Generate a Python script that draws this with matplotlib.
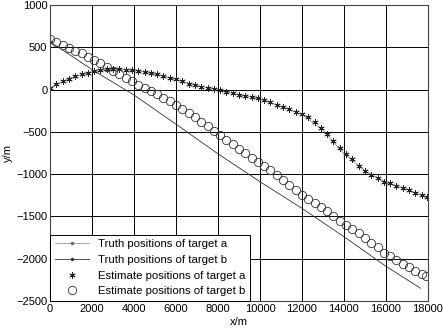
import numpy as np
import matplotlib
matplotlib.use('Agg')
import matplotlib.pyplot as plt

plt.rcParams['font.family'] = ['Liberation Sans', 'DejaVu Sans']

# 真实轨迹 a（与估计点 a 基本重合）
truth_a_x = [0, 1000, 2000, 3000, 4000, 5000, 6000, 7000, 8000, 9000,
             10000, 11000, 12000, 13000, 14000, 15000, 16000, 17000, 17950]
truth_a_y = [20, 140, 210, 245, 225, 185, 120, 45, 0, -65,
             -110, -200, -295, -480, -760, -960, -1100, -1180, -1275]

# 真实轨迹 b
truth_b_x = [0, 2000, 4000, 6000, 8000, 10000, 12000, 14000, 16000, 17650]
truth_b_y = [565, 236, -65, -410, -760, -1090, -1405, -1740, -2090, -2350]

# 估计点 a
est_a_x = [0, 300, 600, 900, 1200, 1500, 1800, 2100, 2400, 2700,
           3000, 3300, 3600, 3900, 4200, 4500, 4800, 5100, 5400, 5700,
           6000, 6300, 6600, 6900, 7200, 7500, 7800, 8100, 8400, 8700,
           9000, 9300, 9600, 9900, 10200, 10500, 10800, 11100, 11400, 11700,
           12000, 12300, 12600, 12900, 13200, 13500, 13800, 14100, 14400, 14700,
           15000, 15300, 15600, 15900, 16200, 16500, 16800, 17100, 17400, 17700,
           17950]
est_a_y = [20, 60, 95, 130, 160, 185, 200, 220, 235, 245,
           245, 240, 235, 225, 215, 205, 195, 180, 160, 135,
           130, 100, 70, 50, 25, 15, 5, -5, -25, -45,
           -60, -75, -90, -100, -125, -150, -180, -205, -230, -260,
           -295, -330, -380, -450, -530, -610, -690, -760, -820, -900,
           -960, -1010, -1050, -1090, -1110, -1140, -1165, -1185, -1220, -1250,
           -1275]

# 估计点 b
est_b_x = [0, 300, 600, 900, 1200, 1500, 1800, 2100, 2400, 2700,
           3000, 3300, 3600, 3900, 4200, 4500, 4800, 5100, 5400, 5700,
           6000, 6300, 6600, 6900, 7200, 7500, 7800, 8100, 8400, 8700,
           9000, 9300, 9600, 9900, 10200, 10500, 10800, 11100, 11400, 11700,
           12000, 12300, 12600, 12900, 13200, 13500, 13800, 14100, 14400, 14700,
           15000, 15300, 15600, 15900, 16200, 16500, 16800, 17100, 17400, 17700,
           17900]
est_b_y = [600, 560, 522, 488, 458, 428, 390, 350, 308, 265,
           220, 178, 140, 100, 58, 22, -15, -55, -95, -135,
           -185, -235, -280, -330, -380, -430, -485, -540, -595, -645,
           -700, -750, -805, -855, -905, -955, -1010, -1065, -1130, -1190,
           -1245, -1290, -1340, -1390, -1440, -1500, -1560, -1600, -1650, -1700,
           -1760, -1810, -1865, -1930, -1970, -2020, -2065, -2100, -2140, -2185,
           -2210]

x_ticks = [0, 2000, 4000, 6000, 8000, 10000, 12000, 14000, 16000, 18000]
y_ticks = [-2500, -2000, -1500, -1000, -500, 0, 500, 1000]

fig = plt.figure(figsize=(4.43, 3.30), dpi=100)
ax = fig.add_axes([0.113, 0.088, 0.853, 0.897])

# 曲线上不画点，只在图例中显示点
ax.plot(truth_a_x, truth_a_y, color='#666666', lw=0.4, marker='.', ms=3,
        markevery=[0], label='Truth positions of target a')
ax.plot(truth_b_x, truth_b_y, color='#333333', lw=0.6, marker='.', ms=3,
        markevery=[0], label='Truth positions of target b')
ax.plot(est_a_x, est_a_y, ls='none', marker=(6, 2, 0), ms=4.5, mew=0.6,
        color='#222222', label='Estimate positions of target a')
ax.plot(est_b_x, est_b_y, ls='none', marker='o', ms=6, mew=0.6,
        mfc='none', mec='#333333', label='Estimate positions of target b')

ax.set_xlim(0, 18000)
ax.set_ylim(-2500, 1000)
ax.set_xticks(x_ticks)
ax.set_yticks(y_ticks)
ax.grid(True, color='black', lw=0.7)
ax.tick_params(length=0, labelsize=8, pad=2, colors='black')
for s in ax.spines.values():
    s.set_color('#444444')
    s.set_linewidth(0.8)
ax.set_xlabel('x/m', fontsize=8, labelpad=2)
ax.set_ylabel('y/m', fontsize=8, labelpad=2)

leg = ax.legend(loc='lower left', borderaxespad=0, fancybox=False,
                edgecolor='black', framealpha=1, fontsize=8.2,
                handlelength=3.0, labelspacing=0.5, numpoints=1)
leg.get_frame().set_linewidth(0.7)

fig.savefig('out.png', dpi=100)
